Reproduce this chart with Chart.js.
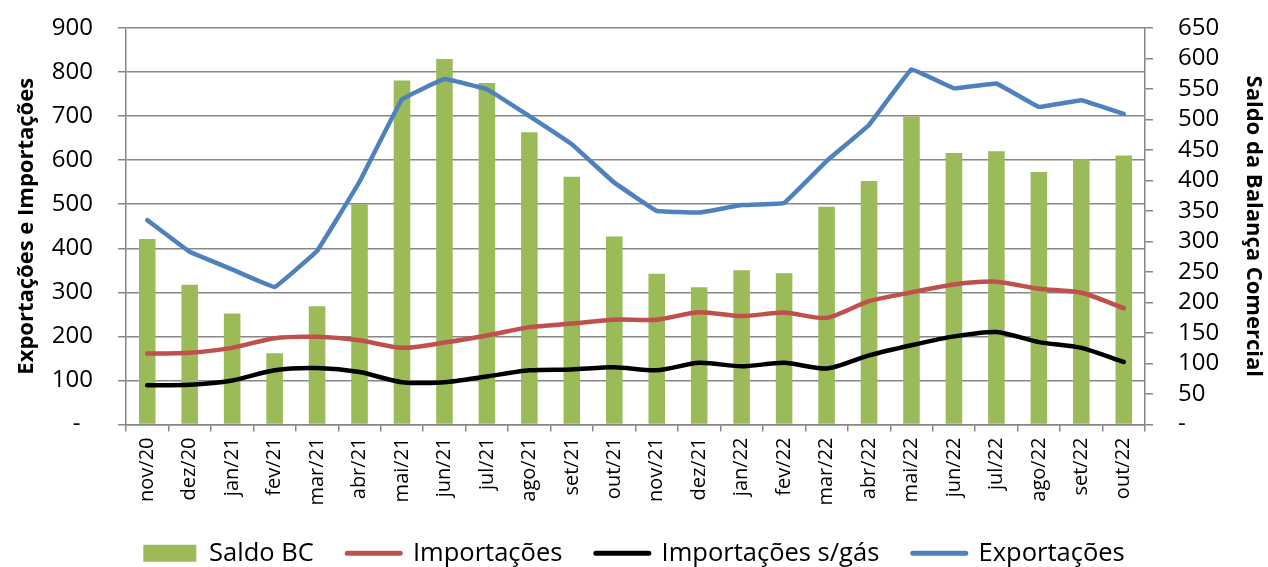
<!DOCTYPE html>
<html><head><meta charset="utf-8">
<script src="https://cdn.jsdelivr.net/npm/chart.js@4/dist/chart.umd.min.js"></script>
<style>html,body{margin:0;padding:0;background:#fff}#wrap{width:1268px;height:567px;position:relative}</style>
</head><body><div id="wrap"><canvas id="c" width="1268" height="567"></canvas></div>
<script>
const categories = ['nov/20','dez/20','jan/21','fev/21','mar/21','abr/21','mai/21','jun/21','jul/21','ago/21','set/21','out/21','nov/21','dez/21','jan/22','fev/22','mar/22','abr/22','mai/22','jun/22','jul/22','ago/22','set/22','out/22'];
const saldoBC = [304, 229, 182, 117, 194, 361, 564, 599, 560, 479, 406, 308, 247, 225, 253, 248, 357, 399, 505, 445, 448, 414, 435, 441];
const importacoes = [161, 163, 174, 196, 199, 191, 174, 186, 202, 221, 229, 238, 238, 255, 246, 254, 242, 280, 300, 318, 324, 308, 299, 264];
const importacoesSemGas = [89, 90, 100, 123, 128, 119, 96, 96, 109, 123, 125, 130, 123, 140, 132, 140, 127, 157, 180, 200, 210, 187, 174, 142];
const exportacoes = [464, 392, 352, 312, 394, 551, 738, 784, 761, 700, 636, 549, 485, 481, 498, 503, 598, 680, 806, 763, 774, 721, 736, 705];
const leftAxis = {min: 0, max: 900, step: 100};
const rightAxis = {min: 0, max: 650, step: 50};

const GRID = '#878787';
const FONT = "'Open Sans', sans-serif";

new Chart(document.getElementById('c'), {
  data: {
    labels: categories,
    datasets: [
      {type: 'bar', label: 'Saldo BC', data: saldoBC, yAxisID: 'yR', backgroundColor: '#9BBB59', borderWidth: 0, barPercentage: 0.39, categoryPercentage: 1, order: 10},
      {type: 'line', label: 'Importações', data: importacoes, yAxisID: 'yL', borderColor: '#C0504D', borderWidth: 4.5, pointRadius: 0, tension: 0.25, borderJoinStyle: 'round', borderCapStyle: 'round', order: 3},
      {type: 'line', label: 'Importações s/gás', data: importacoesSemGas, yAxisID: 'yL', borderColor: '#000000', borderWidth: 4.5, pointRadius: 0, tension: 0.25, borderJoinStyle: 'round', borderCapStyle: 'round', order: 2},
      {type: 'line', label: 'Exportações', data: exportacoes, yAxisID: 'yL', borderColor: '#4F81BD', borderWidth: 4.5, pointRadius: 0, tension: 0.05, borderJoinStyle: 'round', borderCapStyle: 'round', order: 1}
    ]
  },
  options: {
    responsive: false,
    animation: false,
    devicePixelRatio: 1,
    layout: {padding: {top: 28, bottom: -9, left: 0, right: 0}},
    plugins: {
      tooltip: {enabled: false},
      legend: {
        position: 'bottom',
        labels: {
          font: {family: FONT, size: 25.5},
          color: '#000',
          usePointStyle: true,
          pointStyleWidth: 53,
          boxHeight: 17,
          padding: 8,
          generateLabels(chart) {
            return chart.data.datasets.map((ds, i) => ({
              text: ds.label + (i < chart.data.datasets.length - 1 ? '\u2003' : ''),
              fillStyle: ds.type === 'bar' ? ds.backgroundColor : ds.borderColor,
              strokeStyle: ds.type === 'bar' ? ds.backgroundColor : ds.borderColor,
              lineWidth: ds.type === 'bar' ? 0 : 5,
              pointStyle: ds.type === 'bar' ? 'rect' : 'line',
              lineCap: 'round',
              hidden: false,
              datasetIndex: i
            }));
          }
        }
      }
    },
    scales: {
      x: {
        offset: true,
        grid: {offset: true, drawOnChartArea: false, drawTicks: true, tickLength: 7, color: GRID, lineWidth: 1.5},
        border: {display: true, color: GRID, width: 1.5},
        ticks: {autoSkip: false, maxRotation: 90, minRotation: 90, font: {family: FONT, size: 20}, color: '#000', padding: 6},
        afterFit(s) { s.height = 108; }
      },
      yL: {
        position: 'left',
        min: leftAxis.min, max: leftAxis.max,
        ticks: {autoSkip: false, stepSize: leftAxis.step, font: {family: FONT, size: 24}, color: '#000', padding: 25,
          callback: v => v === 0 ? '-  ' : String(v)},
        grid: {color: GRID, lineWidth: 1.5, drawTicks: true, tickLength: 8},
        border: {display: true, color: GRID, width: 1.5},
        title: {display: true, text: 'Exportações e Importações', font: {family: FONT, size: 22, weight: 'bold'}, color: '#000', padding: {top: 14, bottom: 0}},
        afterFit(s) { s.width = 126; s.paddingTop = 0; s.paddingBottom = 0; }
      },
      yR: {
        position: 'right',
        min: rightAxis.min, max: rightAxis.max,
        ticks: {autoSkip: false, stepSize: rightAxis.step, font: {family: FONT, size: 24}, color: '#000', padding: 25,
          callback: v => v === 0 ? '-' : String(v)},
        grid: {drawOnChartArea: false, color: GRID, lineWidth: 1.5, drawTicks: true, tickLength: 8},
        border: {display: true, color: GRID, width: 1.5},
        title: {display: true, text: 'Saldo da Balança Comercial', font: {family: FONT, size: 22, weight: 'bold'}, color: '#000', padding: {top: 2, bottom: 0}},
        afterFit(s) { s.width = 123; s.paddingTop = 0; s.paddingBottom = 0; }
      }
    }
  }
});
</script>
</body></html>
